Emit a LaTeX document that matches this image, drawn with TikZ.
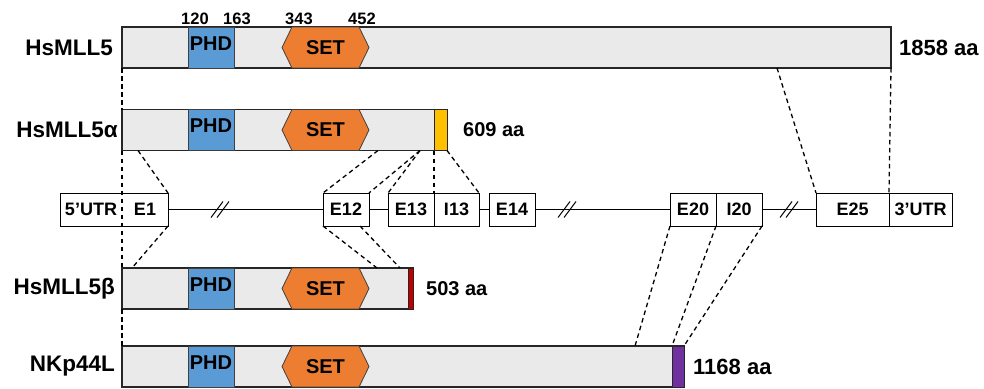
\documentclass[tikz,border=0pt]{standalone}
\usepackage{fontspec}
\setmainfont{Liberation Sans}
\usetikzlibrary{positioning,calc,shapes.symbols}
\definecolor{phdblue}{HTML}{5B9BD5}
\definecolor{setorange}{HTML}{ED7D31}
\definecolor{tailyellow}{HTML}{FFC000}
\definecolor{tailred}{HTML}{C00000}
\definecolor{tailpurple}{HTML}{7030A0}
\definecolor{barfill}{HTML}{EAEAEA}

\begin{document}
\begin{tikzpicture}[x=1pt,y=-1pt,font=\bfseries]
\tikzset{bar/.style={draw=black!85,line width=1.6pt,fill=barfill,minimum height=41pt,inner sep=0pt,outer sep=0pt,anchor=west},
 phd/.style={draw=black!75,line width=0.8pt,fill=phdblue,minimum width=46pt,minimum height=41pt,inner sep=0pt,outer sep=0pt,text height=14pt,text depth=9pt,font=\fontsize{20}{24}\bfseries},
 setdom/.style={signal,signal to=west and east,signal pointer angle=128,draw=black!75,line width=0.8pt,fill=setorange,minimum width=87pt,minimum height=41pt,inner sep=0pt,outer sep=0pt,font=\fontsize{20}{24}\bfseries},
 tail/.style={draw=black!85,line width=1pt,minimum height=41pt,inner sep=0pt,outer sep=0pt,anchor=east},
 exon/.style={draw,line width=1pt,fill=white,minimum height=33pt,inner sep=0pt,outer sep=0pt,anchor=west,font=\fontsize{18}{20}\bfseries},
 lbl/.style={inner sep=0pt,font=\fontsize{22.5}{27}\bfseries},
 len/.style={inner sep=0pt,font=\fontsize{22}{26}\bfseries},
 num/.style={inner sep=0pt,font=\fontsize{16.5}{19}\bfseries},
 link/.style={line width=1.3pt,dash pattern=on 4.5pt off 3.5pt}}
\useasboundingbox (0,0) rectangle (984,388);
% protein bars
\node[bar,minimum width=769pt] (mll5) at (122,47.5) {};
\node[bar,minimum width=325pt] (mllA) at (122,130) {};
\node[bar,minimum width=291pt] (mllB) at (122,288.5) {};
\node[bar,minimum width=562pt] (nkp) at (122,366.5) {};
\node[tail,fill=tailyellow,minimum width=13pt] (tailA) at (mllA.east) {};
\node[tail,fill=tailred,minimum width=5pt] (tailB) at (mllB.east) {};
\node[tail,fill=tailpurple,minimum width=12pt] (tailN) at (nkp.east) {};
\foreach \b in {mll5,mllA,mllB,nkp}{
  \node[phd,right=66pt of \b.west] (phd-\b) {PHD};
  \node[setdom,right=160pt of \b.west] (set-\b) {SET};
}
\node[num] (n120) at (195,18.5) {120};
\node[num] (n163) at (237,18.5) {163};
\node[num] (n343) at (299,18.5) {343};
\node[num] (n452) at (362,18.5) {452};
\node[lbl,left=9pt of mll5] (l-mll5) {HsMLL5};
\node[lbl,left=4pt of mllA] (l-mllA) {HsMLL5α};
\node[lbl,left=7pt of mllB] (l-mllB) {HsMLL5β};
\node[lbl,left=7pt of nkp] (l-nkp) {NKp44L};
\node[len,right=8pt of mll5] (s-mll5) {1858 aa};
\node[len,font=\fontsize{20}{24}\bfseries,right=16pt of mllA] (s-mllA) {609 aa};
\node[len,font=\fontsize{20}{24}\bfseries,right=13pt of mllB] (s-mllB) {503 aa};
\node[len,right=9pt of nkp] (s-nkp) {1168 aa};
% gene structure
\node[exon,draw=none,fill=none,minimum width=62pt] (utr5) at (60,209.5) {5’UTR};
\node[exon,draw=none,fill=none,minimum width=46pt,right=0pt of utr5] (e1) {E1};
\draw[line width=1pt] (utr5.north west) rectangle (e1.south east);
\node[exon,minimum width=46pt] (e12) at (323,209.5) {E12};
\node[exon,minimum width=46pt] (e13) at (388,209.5) {E13};
\node[exon,minimum width=45pt,right=0pt of e13] (i13) {I13};
\node[exon,minimum width=46pt] (e14) at (489,209.5) {E14};
\node[exon,minimum width=46pt] (e20) at (670,209.5) {E20};
\node[exon,minimum width=46pt,right=0pt of e20] (i20) {I20};
\node[exon,minimum width=73pt] (e25) at (816,209.5) {E25};
\node[exon,minimum width=63pt,right=0pt of e25] (utr3) {3’UTR};
\draw[line width=0.9pt] (e1.east)--(e12.west) (e12.east)--(e13.west) (i13.east)--(e14.west) (e14.east)--(e20.west) (i20.east)--(e25.west);
\coordinate (brk1) at (220,209.5);
\coordinate (brk2) at (567,209.5);
\coordinate (brk3) at (789,209.5);
\foreach \k in {brk1,brk2,brk3}
  \draw[line width=1pt] ([shift={(-9,8)}]\k)--([shift={(3,-8)}]\k) ([shift={(-3,8)}]\k)--([shift={(9,-8)}]\k);
% exon links
\coordinate (m-e25) at ($(mll5.south west)+(655,0)$);
\coordinate (a-e1) at ($(mllA.south west)+(16,0)$);
\coordinate (a-e12) at ($(mllA.south west)+(256,0)$);
\coordinate (a-e13) at ($(mllA.south west)+(298,0)$);
\coordinate (b-e1) at ($(mllB.north west)+(10,0)$);
\coordinate (b-e12a) at ($(mllB.north west)+(255,0)$);
\coordinate (b-e12b) at ($(mllB.north west)+(278,0)$);
\coordinate (e12-s) at ($(e12.south east)+(-9,0)$);
\coordinate (n-e20) at ($(nkp.north west)+(513,0)$);
\draw[link] (mll5.south west)--(mllA.north west);
\draw[link] (mllA.south west)--(mllB.north west);
\draw[link] (mllB.south west)--(nkp.north west);
\draw[link] (m-e25)--(e25.north west);
\draw[link] (mll5.south east)--(utr3.north west);
\draw[link] (a-e1)--(e1.north east);
\draw[link] (a-e12)--(e12.north west);
\draw[link] (a-e13)--(e12.north east);
\draw[link] (a-e13)--(e13.north west);
\draw[link] (tailA.south west)--(e13.north east);
\draw[link] (mllA.south east)--(i13.north east);
\draw[link] (e1.south east)--(b-e1);
\draw[link] (e12.south west)--(b-e12a);
\draw[link] (e12-s)--(b-e12b);
\draw[link] (e20.south west)--(n-e20);
\draw[link] (e20.south east)--(tailN.north west);
\draw[link] (i20.south east)--(nkp.north east);
\end{tikzpicture}
\end{document}
